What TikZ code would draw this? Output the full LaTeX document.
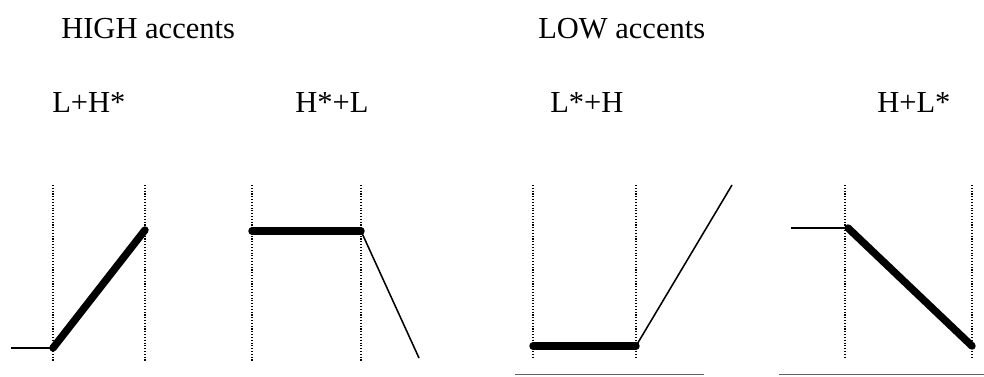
\documentclass[tikz,border=0pt]{standalone}
\usepackage{fontspec}
\setmainfont{Liberation Serif}
\definecolor{rulegray}{RGB}{100,100,100}

\begin{document}
\begin{tikzpicture}[x=0.025cm, y=-0.025cm,
    lbl/.style={anchor=base west, inner sep=0pt, font=\fontsize{21.7}{26}\selectfont},
    grid/.style={line width=0.9pt, dash pattern=on 0.8pt off 1.2pt},
    tone/.style={line width=5.3pt, line cap=round},
    trans/.style={line width=1.1pt},
    base/.style={line width=1.3pt, color=rulegray}
]
\useasboundingbox (0,0) rectangle (984,376);
% headings
\node[lbl] (high) at (61,38)  {HIGH accents};
\node[lbl] (low)  at (538,38) {LOW accents};
\node[lbl] (lh)   at (52,112)  {L+H*};
\node[lbl] (hl)   at (295,112) {H*+L};
\node[lbl] (ls)   at (550,112) {L*+H};
\node[lbl] (hs)   at (877,112) {H+L*};
% L+H*
\draw[grid] (53,185) -- (53,362);
\draw[grid] (145,185) -- (145,362);
\coordinate (a0) at (11,348);
\coordinate (a1) at (53,348);
\coordinate (a2) at (145,230);
\draw[trans] (a0) -- (a1);
\draw[tone] (a1) -- (a2);
% H*+L
\draw[grid] (252,185) -- (252,362);
\draw[grid] (361,185) -- (361,362);
\coordinate (b1) at (252,231);
\coordinate (b2) at (361,231);
\coordinate (b3) at (419,358);
\draw[tone] (b1) -- (b2);
\draw[trans] (b2) -- (b3);
% L*+H
\draw[grid] (533,185) -- (533,357);
\draw[grid] (636,185) -- (636,357);
\coordinate (c1) at (533,346);
\coordinate (c2) at (636,346);
\coordinate (c3) at (732,185);
\draw[tone] (c1) -- (c2);
\draw[trans] (c2) -- (c3);
\draw[base] (515,374.5) -- (704,374.5);
% H+L*
\draw[grid] (845,185) -- (845,357);
\draw[grid] (972,185) -- (972,357);
\coordinate (d0) at (791,228);
\coordinate (d1) at (848,228);
\coordinate (d2) at (972,346);
\draw[trans] (d0) -- (d1);
\draw[tone] (d1) -- (d2);
\draw[base] (779,374.5) -- (984,374.5);
\end{tikzpicture}
\end{document}
